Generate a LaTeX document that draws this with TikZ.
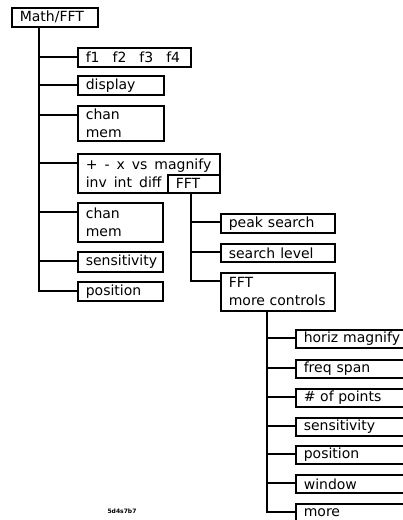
\documentclass[tikz,border=0pt]{standalone}
\usepackage{fontspec}
\setmainfont{DejaVu Sans}

\tikzset{
  menu/.style={draw, line width=1.6pt, anchor=north west, align=left,
    inner xsep=8pt, inner ysep=1pt, text width=#1, minimum height=19pt,
    font=\fontsize{14}{18}\selectfont},
  tree/.style={line width=1.6pt}
}

\begin{document}
\begin{tikzpicture}[x=1pt, y=-1pt]
  \useasboundingbox (0,0) rectangle (403,520);

  % top key
  \node[menu=70pt] (math) at (11,7) {Math/FFT};

  % first level
  \node[menu=97pt] (fkeys) at (77,47) {f1\hspace{13pt}f2\hspace{13pt}f3\hspace{13pt}f4};
  \node[menu=70pt] (display) at (77,75) {display};
  \node[menu=70pt, minimum height=35pt] (chanA) at (77,105) {chan\\mem};
  \node[menu=126pt, minimum height=39pt] (arith) at (77,153)
    {+\hspace{7pt}-\hspace{7pt}x\hspace{7pt}vs\hspace{7pt}magnify\\inv\hspace{7pt}int\hspace{7pt}diff};
  \node[menu=36pt, minimum height=18pt] (fft) at (167,174) {FFT};
  \node[menu=69pt, minimum height=39pt] (chanB) at (77,202) {chan\\mem};
  \node[menu=69pt, minimum height=20pt] (sens) at (77,251) {sensitivity};
  \node[menu=69pt] (posn) at (77,281) {position};

  % FFT level
  \node[menu=98pt] (peak) at (220,213) {peak\hspace{5pt}search};
  \node[menu=98pt, minimum height=18pt] (level) at (220,243) {search\hspace{5pt}level};
  \node[menu=98pt, minimum height=38pt] (fftmore) at (220,272) {FFT\\more controls};

  % more controls level (boxes run off the right edge)
  \foreach \name/\y/\txt in {hmag/329/horiz\hspace{5pt}magnify, span/359/freq\hspace{5pt}span,
      points/388/\# of points, sensB/417/sensitivity, posnB/445/position,
      window/474/window, more/503/more} {
    \node[menu=99pt, minimum height=18pt] (\name) at (295,\y) {\txt};
  }

  % trunks
  \coordinate (mtop) at ([xshift=28pt]math.south west);
  \foreach \n in {fkeys,display,chanA,arith,chanB,sens,posn}
    \draw[tree] (mtop) |- ([yshift=-10pt]\n.north west);

  \coordinate (ftop) at ([xshift=24pt]fft.south west);
  \foreach \n in {peak,level,fftmore}
    \draw[tree] (ftop) |- ([yshift=-9pt]\n.north west);

  \coordinate (ctop) at ([xshift=47pt]fftmore.south west);
  \foreach \n in {hmag,span,points,sensB,posnB,window,more}
    \draw[tree] (ctop) |- ([yshift=-9pt]\n.north west);

  % figure code
  \node[font=\fontsize{6}{7}\selectfont\bfseries] (code) at (122,511) {5d4s7b7};
\end{tikzpicture}
\end{document}
